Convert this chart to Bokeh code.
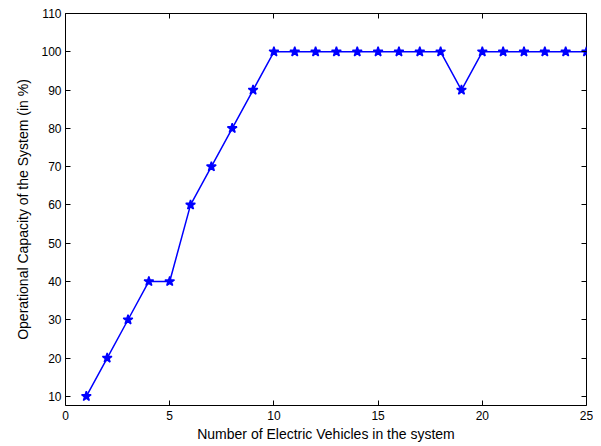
from bokeh.plotting import figure
from bokeh.models import LinearAxis, Range1d, FixedTicker
from bokeh.embed import file_html
from bokeh.resources import INLINE

vehicles = list(range(1, 26))
capacity = [10, 20, 30, 40, 40, 60, 70, 80, 90, 100, 100, 100, 100, 100, 100, 100, 100, 100,
            90, 100, 100, 100, 100, 100, 100]
x_ticks = [0, 5, 10, 15, 20, 25]
y_ticks = [10, 20, 30, 40, 50, 60, 70, 80, 90, 100, 110]

p = figure(width=593, height=445, output_backend="svg", toolbar_location=None,
           x_range=Range1d(0, 25), y_range=Range1d(7.6, 110),
           min_border_left=65, min_border_right=7, min_border_top=13, min_border_bottom=40)
p.xgrid.visible = False
p.ygrid.visible = False
p.outline_line_color = "black"
p.outline_line_width = 1
p.background_fill_color = "white"
p.border_fill_color = "white"

font = "Liberation Sans"

def style(ax, labels=True):
    ax.axis_line_color = None
    ax.major_tick_in = 5
    ax.major_tick_out = 0
    ax.minor_tick_line_color = None
    ax.major_tick_line_color = "black"
    ax.major_label_text_font = font
    ax.major_label_text_font_size = "12px"
    ax.major_label_text_color = "black"
    ax.axis_label_text_font = font
    ax.axis_label_text_font_size = "14px"
    ax.axis_label_text_font_style = "normal"
    ax.axis_label_text_color = "black"
    if not labels:
        ax.major_label_overrides = {t: "" for t in ax.ticker.ticks}
        ax.major_label_standoff = 0

p.xaxis.ticker = FixedTicker(ticks=x_ticks)
p.yaxis.ticker = FixedTicker(ticks=y_ticks)
p.xaxis.axis_label = "Number of Electric Vehicles in the system"
p.yaxis.axis_label = "Operational Capacity of the System (in %)"
p.xaxis.axis_label_standoff = 3
p.yaxis.axis_label_standoff = 7
p.xaxis.major_label_standoff = 5
p.yaxis.major_label_standoff = 4
style(p.xaxis[0])
style(p.yaxis[0])

top = LinearAxis(ticker=FixedTicker(ticks=x_ticks))
right = LinearAxis(ticker=FixedTicker(ticks=y_ticks))
style(top, labels=False)
style(right, labels=False)
p.add_layout(top, "above")
p.add_layout(right, "right")

p.line(vehicles, capacity, line_color="#0000ff", line_width=1.5)
p.scatter(vehicles, capacity, marker="star", size=10, line_color="#0000ff",
          fill_color="#0000ff", line_width=1.5)

open("out.html", "w").write(file_html(p, INLINE))
